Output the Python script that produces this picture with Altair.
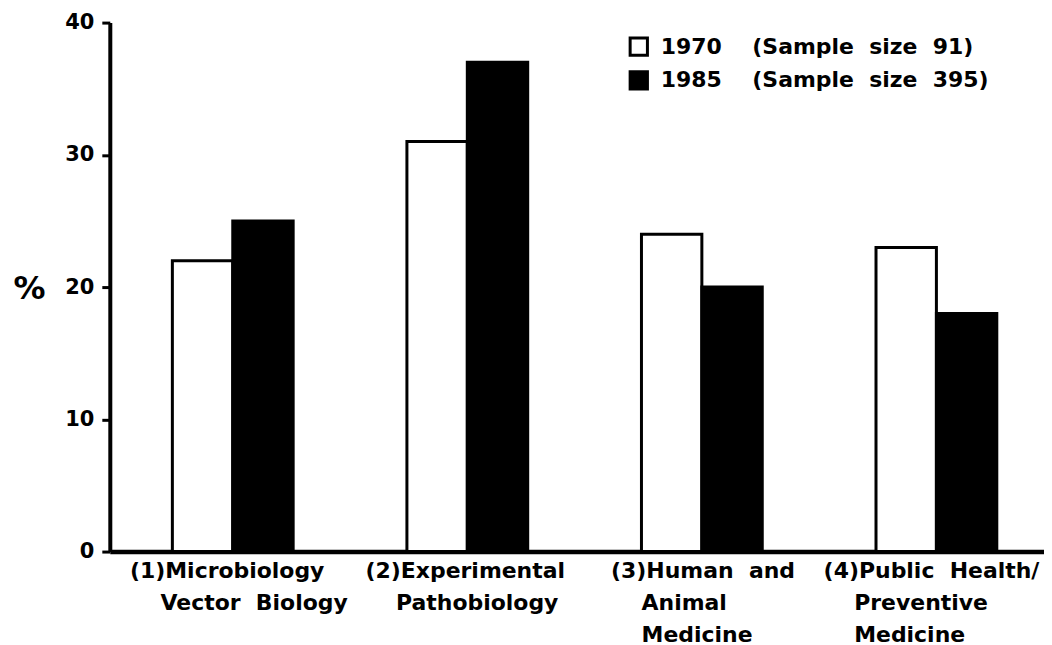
import altair as alt
import pandas as pd

# ---- data ----
label_lines = [
    ["(1)Microbiology", "Vector\u00a0\u00a0Biology"],
    ["(2)Experimental", "Pathobiology"],
    ["(3)Human\u00a0\u00a0and", "Animal", "Medicine"],
    ["(4)Public\u00a0\u00a0Health/", "Preventive", "Medicine"],
]
years = ["1970", "1985"]
sample_sizes = [91, 395]
values_1970 = [22, 31, 24, 23]
values_1985 = [25, 37, 20, 18]
y_ticks = [0, 10, 20, 30, 40]

FONT = "DejaVu Sans"
IND = "\u200b" + "\u00a0" * 4
NB = "\u00a0"

categories = ["|".join([l[0]] + [IND + s for s in l[1:]]) for l in label_lines]

rows = []
for c, a, b in zip(categories, values_1970, values_1985):
    rows.append({"cat": c, "year": years[0], "pct": a})
    rows.append({"cat": c, "year": years[1], "pct": b})
df = pd.DataFrame(rows)

# per-category label shift (layout only): first line centred on the group
label_offsets = [-103, -102, -91, -113]
offset_expr = ""
for c, o in zip(categories[:-1], label_offsets[:-1]):
    offset_expr += f"datum.value == '{c}' ? {o} : "
offset_expr += str(label_offsets[-1])

legend_text = {y: f"{y}{NB*4}(Sample{NB*2}size{NB*2}{n})" for y, n in zip(years, sample_sizes)}
legend_expr = f"datum.label == '{years[0]}' ? '{legend_text[years[0]]}' : '{legend_text[years[1]]}'"

chart = alt.Chart(df).mark_bar(stroke="black", strokeWidth=3).encode(
    x=alt.X(
        "cat:N",
        sort=categories,
        title=None,
        scale=alt.Scale(paddingInner=0.485, paddingOuter=0.234, align=0.57),
        axis=alt.Axis(
            labelExpr="split(datum.label, '|')",
            labelAlign="left",
            labelOffset={"expr": offset_expr},
            labelBaseline="top",
            labelPadding=9,
            labelLineHeight=32,
            labelFont=FONT,
            labelFontSize=22,
            labelFontWeight="bold",
            labelColor="black",
            labelAngle=0,
            labelLimit=500,
            labelOverlap=False,
            ticks=False,
            domainWidth=4.5,
            domainColor="black",
        ),
    ),
    xOffset=alt.XOffset("year:N", sort=years, scale=alt.Scale(paddingInner=0, paddingOuter=0)),
    y=alt.Y(
        "pct:Q",
        scale=alt.Scale(domain=[0, 40]),
        axis=alt.Axis(
            values=y_ticks,
            title="%",
            titleAngle=0,
            titleX=-81,
            titleY=266,
            titleAlign="center",
            titleBaseline="middle",
            titleFont=FONT,
            titleFontSize=32,
            titleFontWeight="bold",
            titleColor="black",
            grid=False,
            tickSize=8,
            tickWidth=3,
            tickColor="black",
            domainWidth=4,
            domainColor="black",
            labelFont=FONT,
            labelFontSize=21,
            labelFontWeight="bold",
            labelColor="black",
            labelPadding=8,
        ),
    ),
    fill=alt.Fill(
        "year:N",
        scale=alt.Scale(domain=years, range=["white", "black"]),
        legend=alt.Legend(
            title=None,
            orient="none",
            legendX=519,
            legendY=13,
            symbolType="square",
            symbolSize=300,
            symbolStrokeColor="black",
            symbolStrokeWidth=3,
            labelFont=FONT,
            labelFontSize=22,
            labelFontWeight="bold",
            labelColor="black",
            labelOffset=11,
            labelLimit=600,
            labelExpr=legend_expr,
            rowPadding=4,
            padding=0,
        ),
    ),
).properties(
    width=936,
    height=530,
    padding={"left": 4, "top": 3, "right": 0, "bottom": 0},
    background="white",
).configure_view(stroke=None)

chart.save("out.html", embed_options={"renderer": "svg", "actions": False})
